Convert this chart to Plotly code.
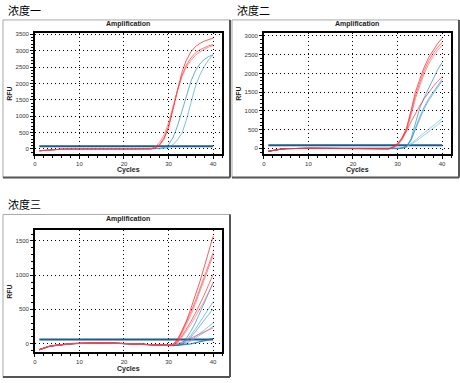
import plotly.graph_objects as go

W, H = 460, 383
cycles = list(range(1, 41))

# ---------------- Panel 1 (浓度一) ----------------
p1_base = [-55, -42, -30, -20, -12, -6, -2, 0, 1, 2, 2, 1, 0, 0, 1, 2, 2, 1, 0, 0, 1, 1, 0, 0, 1, 2]  # cycles 1-26
p1_red_tails = [  # cycles 27-40
    [40, 140, 340, 690, 1240, 1840, 2340, 2710, 2960, 3120, 3220, 3290, 3345, 3380],
    [25, 110, 300, 650, 1200, 1780, 2230, 2560, 2775, 2925, 3025, 3095, 3150, 3185],
    [70, 200, 430, 800, 1300, 1800, 2210, 2500, 2700, 2850, 2965, 3050, 3110, 3155],
]
p1_blue_tails = [  # cycles 27-40
    [3, 10, 40, 130, 350, 700, 1150, 1620, 2060, 2380, 2590, 2730, 2820, 2875],
    [0, 4, 15, 50, 130, 280, 480, 880, 1420, 1900, 2250, 2520, 2720, 2870],
]
p1_threshold = 85
p1_yticks = [0, 500, 1000, 1500, 2000, 2500, 3000, 3500]
p1_yrange = [-150, 3550]

# ---------------- Panel 2 (浓度二) ----------------
p2_base = [-80, -55, -35, -20, -10, -5, -2, 0, 0, 0, 0, 0, 0, 0, 0, 0, 0, 0, 0, 0,
           -2, -5, -8, -10, -12, -14, -15, -15]  # cycles 1-28
p2_red_tails = [  # cycles 29-40
    [30, 110, 280, 540, 1000, 1500, 1850, 2170, 2430, 2630, 2800, 2940],
    [20, 90, 250, 500, 930, 1400, 1760, 2080, 2340, 2540, 2700, 2830],
    [15, 70, 220, 460, 870, 1320, 1680, 2000, 2260, 2460, 2620, 2750],
    [40, 130, 270, 460, 700, 930, 1140, 1330, 1500, 1650, 1790, 1915],
]
p2_blue_tails = [  # cycles 29-40
    [-15, -10, 10, 50, 250, 700, 1080, 1360, 1610, 1890, 2100, 2295],
    [-15, -10, 5, 40, 200, 500, 800, 1060, 1280, 1450, 1630, 1795],
    [-15, -10, 8, 45, 220, 540, 850, 1110, 1330, 1500, 1680, 1845],
]
p2_lblue_tails = [  # cycles 29-40
    [-15, -10, 0, 40, 120, 220, 320, 420, 510, 610, 700, 790],
    [-15, -10, 0, 35, 100, 180, 265, 350, 440, 535, 630, 725],
]
p2_threshold = 80
p2_yticks = [0, 500, 1000, 1500, 2000, 2500, 3000]
p2_yrange = [-150, 3090]

# ---------------- Panel 3 (浓度三) ----------------
p3_base = [-90, -65, -45, -32, -22, -14, -8, -3, 0, 3, 6, 8, 10, 10, 10, 9, 8, 6, 4, 2,
           0, -3, -6, -10, -14, -18, -22, -25, -27, -28]  # cycles 1-30
p3_red_tails = [  # cycles 31-40
    [-10, 60, 190, 330, 510, 700, 900, 1120, 1340, 1570],
    [-15, 40, 170, 310, 460, 620, 790, 970, 1150, 1330],
    [-15, 30, 150, 280, 420, 580, 750, 920, 1100, 1290],
    [-20, 20, 110, 210, 320, 440, 570, 710, 860, 1010],
    [-20, 10, 90, 180, 280, 390, 500, 620, 750, 885],
    [-20, -5, 20, 50, 80, 110, 140, 170, 200, 230],
]
p3_blue_tails = [  # cycles 31-40
    [-28, -20, 10, 80, 180, 300, 440, 590, 740, 890],
    [-28, -22, 0, 50, 120, 210, 310, 410, 510, 610],
    [-28, -22, -5, 35, 95, 170, 250, 340, 425, 510],
    [-28, -24, -10, 15, 50, 95, 145, 195, 250, 300],
    [-28, -25, -15, 5, 35, 75, 115, 160, 205, 253],
]
p3_dblue_tails = [  # cycles 31-40
    [-28, -26, -22, -15, -5, 10, 25, 40, 57, 73],
]
p3_threshold = 58
p3_yticks = [0, 500, 1000, 1500]
p3_yrange = [-125, 1655]

panel_labels = ["浓度一", "浓度二", "浓度三"]
title_text = "Amplification"
xlabel = "Cycles"
ylabel = "RFU"
xticks = [0, 10, 20, 30, 40]

RED = ["#ff0000", "#ff3030", "#ff5555", "#ff2020", "#ff6666", "#ff4040"]
BLUE = ["#1580c8", "#3a9ad8", "#2a8fd0", "#4aa5df", "#5aaee2"]
LBLUE = "#5fb2e6"
DBLUE = "#1a6fb5"
THR = "#1f5a8e"


def px(x):
    return x / W


def py(y):
    return 1 - y / H


fig = go.Figure()

# panel geometry (pixels): plot area l, r, t, b ; frame l, t, r, b
panels = [
    dict(ax="", plot=(33, 221, 31.7, 153.3), frame=(1, 19, 229, 177), label=(4, 9)),
    dict(ax="2", plot=(263, 451, 31.7, 153.3), frame=(231, 19, 459, 177), label=(234, 9)),
    dict(ax="3", plot=(33, 221, 230, 352), frame=(1, 214, 229, 377), label=(4, 204)),
]


def add_curve(base, tail, color, axn, width=0.8, opacity=0.8):
    ys = base + tail
    fig.add_trace(go.Scatter(x=cycles[:len(ys)], y=ys, mode="lines",
                             line=dict(color=color, width=width), opacity=opacity,
                             xaxis="x" + axn, yaxis="y" + axn, showlegend=False,
                             hoverinfo="skip"))


def add_threshold(val, axn):
    fig.add_trace(go.Scatter(x=[cycles[0], cycles[-1]], y=[val, val], mode="lines",
                             line=dict(color=THR, width=2), xaxis="x" + axn,
                             yaxis="y" + axn, showlegend=False, hoverinfo="skip"))


# Panel 1
add_threshold(p1_threshold, "")
for i, t in enumerate(p1_blue_tails):
    add_curve(p1_base, t, BLUE[i], "")
for i, t in enumerate(p1_red_tails):
    add_curve(p1_base, t, RED[i], "")

# Panel 2
add_threshold(p2_threshold, "2")
for t in p2_lblue_tails:
    add_curve(p2_base, t, LBLUE, "2")
for i, t in enumerate(p2_blue_tails):
    add_curve(p2_base, t, BLUE[i], "2")
for i, t in enumerate(p2_red_tails):
    add_curve(p2_base, t, RED[i], "2")

# Panel 3
add_threshold(p3_threshold, "3")
for i, t in enumerate(p3_blue_tails):
    add_curve(p3_base, t, BLUE[i], "3")
for t in p3_dblue_tails:
    add_curve(p3_base, t, DBLUE, "3", width=1.4)
for i, t in enumerate(p3_red_tails):
    add_curve(p3_base, t, RED[i], "3")

yticks_all = [p1_yticks, p2_yticks, p3_yticks]
yranges = [p1_yrange, p2_yrange, p3_yrange]

tickfont = dict(family="Liberation Sans, Arial, sans-serif", size=6, color="#333")
layout_axes = {}
shapes = []
annotations = []
for k, p in enumerate(panels):
    l, r, t, b = p["plot"]
    n = p["ax"]
    xname = "xaxis" + n
    yname = "yaxis" + n
    layout_axes[xname] = dict(
        domain=[px(l), px(r)], range=[0, 42], anchor="y" + n,
        tickvals=xticks, ticks="outside", ticklen=3, tickcolor="black",
        minor=dict(dtick=2, ticks="outside", ticklen=2, tickcolor="black"),
        showline=True, linecolor="black", linewidth=1.5, mirror=True,
        showgrid=True, gridcolor="#000", griddash="1px,3px", gridwidth=1,
        zeroline=False, tickfont=tickfont, fixedrange=True)
    layout_axes[yname] = dict(
        domain=[py(b), py(t)], range=yranges[k], anchor="x" + n,
        tickvals=yticks_all[k], ticks="outside", ticklen=3, tickcolor="black",
        minor=dict(dtick=100, ticks="outside", ticklen=2, tickcolor="black"),
        showline=True, linecolor="black", linewidth=1.5, mirror=True,
        showgrid=True, gridcolor="#000", griddash="1px,3px", gridwidth=1,
        zeroline=False, tickfont=tickfont, fixedrange=True)

    fl, ft, fr, fb = p["frame"]
    shapes.append(dict(type="rect", xref="paper", yref="paper",
                       x0=px(fl), x1=px(fr), y0=py(fb), y1=py(ft),
                       line=dict(color="#a8a8a8", width=1), layer="below"))
    shapes.append(dict(type="line", xref="paper", yref="paper",
                       x0=px(fr), x1=px(fr), y0=py(fb), y1=py(ft),
                       line=dict(color="#555", width=2)))
    shapes.append(dict(type="line", xref="paper", yref="paper",
                       x0=px(fl), x1=px(fr), y0=py(fb), y1=py(fb),
                       line=dict(color="#555", width=2)))

    lx, ly = p["label"]
    annotations.append(dict(text=panel_labels[k], xref="paper", yref="paper",
                            x=px(lx), y=py(ly), xanchor="left", yanchor="middle",
                            showarrow=False,
                            font=dict(family="Noto Sans CJK SC", size=11, color="#000")))
    cx = (l + r) / 2
    annotations.append(dict(text="<b>" + title_text + "</b>", xref="paper", yref="paper",
                            x=px(cx), y=py(ft + 4.5), xanchor="center", yanchor="middle",
                            showarrow=False,
                            font=dict(family="Liberation Sans, Arial", size=7, color="#222")))
    annotations.append(dict(text="<b>" + xlabel + "</b>", xref="paper", yref="paper",
                            x=px(cx), y=py(b + 16.5), xanchor="center", yanchor="middle",
                            showarrow=False,
                            font=dict(family="Liberation Sans, Arial", size=7, color="#222")))
    annotations.append(dict(text="<b>" + ylabel + "</b>", xref="paper", yref="paper",
                            x=px(fl + 6.5), y=py((t + b) / 2), xanchor="center",
                            yanchor="middle", textangle=-90, showarrow=False,
                            font=dict(family="Liberation Sans, Arial", size=7, color="#222")))

fig.update_layout(
    width=W, height=H, margin=dict(l=0, r=0, t=0, b=0),
    paper_bgcolor="white", plot_bgcolor="white",
    shapes=shapes, annotations=annotations, showlegend=False,
    **layout_axes)

fig.write_html("out.html", config={"displayModeBar": False},
               post_script="document.body.style.margin='0';document.body.style.overflow='hidden';")
